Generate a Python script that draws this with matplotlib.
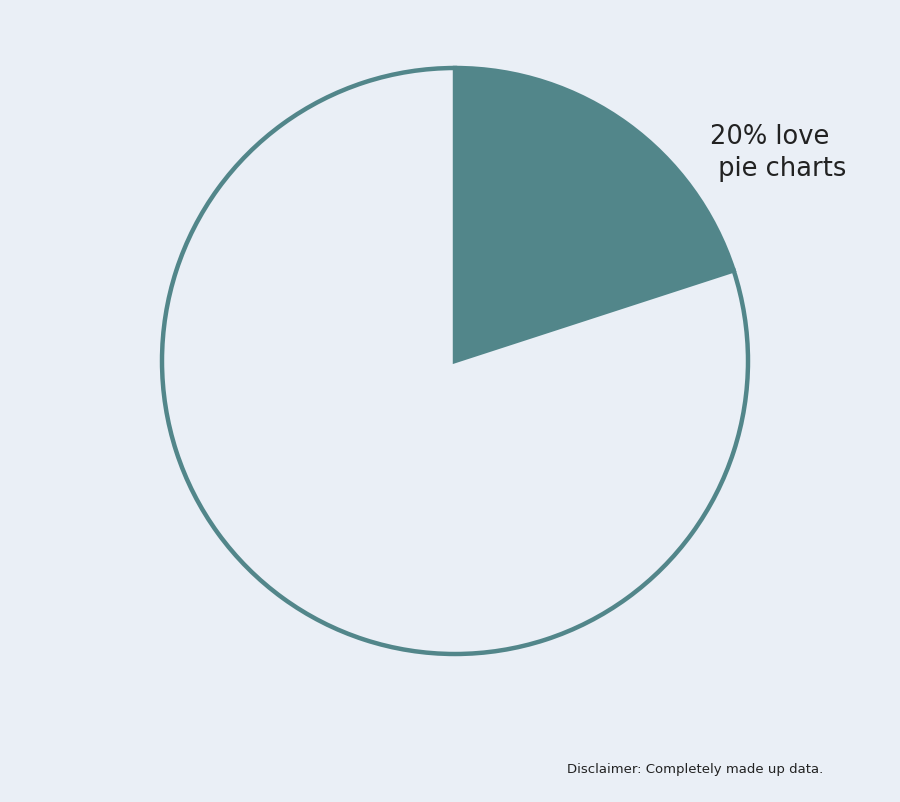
import matplotlib.pyplot as plt

# share of people who love pie charts
labels = ['love pie charts', 'rest']
shares = [20, 80]

bg = '#eaeff6'
teal = '#52868a'

fig = plt.figure(figsize=(9, 8.02), dpi=100, facecolor=bg)
ax = fig.add_axes([162/900, (802-361-293)/802, 586/900, 586/802])
ax.set_facecolor(bg)

ax.pie(shares, startangle=90, counterclock=False,
       colors=[teal, bg],
       wedgeprops=dict(edgecolor=teal, linewidth=3.2))
ax.set_xlim(-1, 1)
ax.set_ylim(-1, 1)
ax.set_aspect('equal')
ax.axis('off')

ax.text(0.87, 0.808, f"{shares[0]}% love\n pie charts", ha='left', va='top',
        fontsize=18.5, color='#222222', family='DejaVu Sans',
        linespacing=1.3, clip_on=False)

fig.text(567/900, 0.036, "Disclaimer: Completely made up data.",
         fontsize=9.5, color='#222222', family='DejaVu Sans')

fig.savefig('out.png', dpi=100, facecolor=bg)
